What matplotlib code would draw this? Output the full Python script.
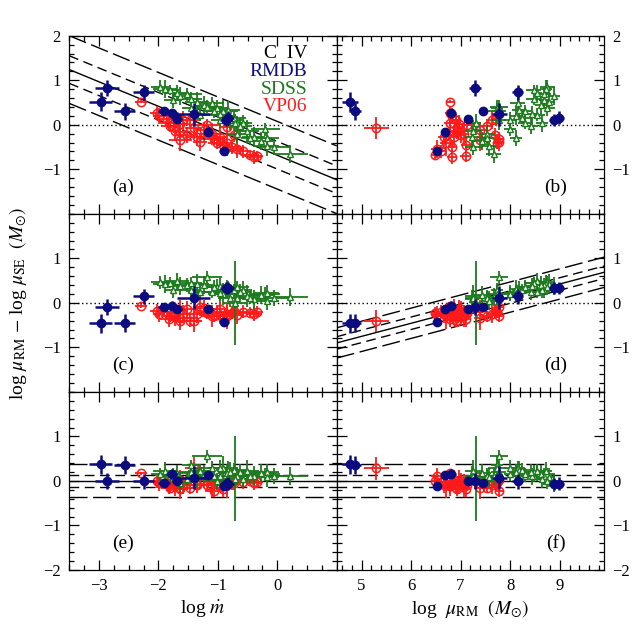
import matplotlib.pyplot as plt
from matplotlib.ticker import MultipleLocator
import numpy as np

plt.rcParams["font.family"] = ["Liberation Serif", "DejaVu Serif"]
plt.rcParams["mathtext.fontset"] = "stix"

# RMDB (reverberation-mapping database)
rmdb_mdot = [-2.97, -2.86, -2.57, -2.25, -1.90, -1.77, -1.69, -1.41, -1.16, -0.90, -0.86, -0.83]
rmdb_mass = [4.76, 7.30, 4.87, 8.15, 7.45, 6.81, 7.16, 7.78, 6.69, 6.53, 8.89, 8.99]
rmdb_d1 = [0.52, 0.83, 0.30, 0.73, 0.31, 0.26, 0.13, 0.24, -0.16, -0.60, 0.11, 0.16]
rmdb_d2 = [-0.46, -0.09, -0.46, 0.15, -0.09, -0.06, -0.14, 0.12, -0.13, -0.43, 0.33, 0.33]
rmdb_d3 = [0.37, 0.00, 0.36, -0.01, -0.04, 0.16, -0.01, 0.07, 0.14, -0.11, -0.07, -0.06]
rmdb_e_mdot = [0.19, 0.20, 0.17, 0.17, 0.10, 0.10, 0.08, 0.28, 0.08, 0.08, 0.10, 0.10]
rmdb_e_mass = [0.16, 0.12, 0.12, 0.12, 0.06, 0.10, 0.06, 0.15, 0.06, 0.06, 0.10, 0.10]
rmdb_e_d = [0.22, 0.18, 0.20, 0.17, 0.08, 0.10, 0.08, 0.26, 0.08, 0.08, 0.14, 0.14]

# VP06
vp06_mdot = [-2.30, -2.02, -1.99, -1.86, -1.58, -1.47, -1.82, -1.63, -1.18, -1.81,
             -1.41, -0.85, -1.24, -1.72, -1.63, -1.10, -1.52, -0.73, -1.35, -0.96,
             -1.07, -1.63, -1.30, -1.02, -0.85, -0.91, -0.76, -0.68, -0.57, -0.46,
             -0.40, -0.34]
vp06_mass = [6.79, 6.78, 6.82, 7.72, 7.63, 6.90, 6.79, 6.96, 7.13, 7.53,
             5.30, 6.95, 7.40, 6.79, 6.93, 7.06, 7.00, 7.70, 6.66, 6.86,
             7.77, 7.40, 7.77, 7.74, 6.70, 7.10, 6.83, 6.52, 6.60, 6.49,
             6.83, 7.10]
vp06_d1 = [0.52, 0.27, 0.19, 0.12, 0.10, 0.10, 0.04, 0.01, -0.01, -0.03,
           -0.07, -0.06, -0.12, -0.14, -0.16, -0.20, -0.22, -0.23, -0.27, -0.28,
           -0.31, -0.34, -0.38, -0.40, -0.42, -0.46, -0.50, -0.55, -0.60, -0.68,
           -0.72, -0.71]
vp06_d2 = [-0.07, -0.18, -0.25, -0.20, -0.25, -0.40, -0.37, -0.15, -0.22, -0.30,
           -0.40, -0.25, -0.12, -0.30, -0.40, -0.30, -0.14, -0.18, -0.25, -0.14,
           -0.29, -0.35, -0.10, -0.20, -0.30, -0.37, -0.22, -0.28, -0.20, -0.22,
           -0.25, -0.20]
vp06_d3 = [0.17, 0.00, -0.05, -0.05, -0.10, -0.15, -0.12, 0.02, -0.08, -0.15,
           0.28, -0.10, 0.03, -0.12, -0.18, -0.10, 0.00, -0.05, -0.08, 0.02,
           -0.22, -0.15, 0.02, -0.05, -0.10, -0.18, -0.05, 0.10, -0.02, 0.00,
           -0.05, -0.03]
vp06_e_mdot = [0.10, 0.12, 0.10, 0.15, 0.12, 0.18, 0.15, 0.12, 0.20, 0.15,
               0.15, 0.12, 0.15, 0.10, 0.12, 0.18, 0.15, 0.12, 0.20, 0.12,
               0.15, 0.20, 0.12, 0.15, 0.10, 0.12, 0.15, 0.12, 0.10, 0.15,
               0.12, 0.10]
vp06_e_mass = [0.08, 0.10, 0.08, 0.10, 0.12, 0.10, 0.12, 0.08, 0.10, 0.12,
               0.25, 0.10, 0.12, 0.08, 0.15, 0.10, 0.12, 0.08, 0.12, 0.10,
               0.08, 0.12, 0.10, 0.08, 0.12, 0.10, 0.08, 0.12, 0.10, 0.08,
               0.10, 0.12]
vp06_e_d = [0.04, 0.15, 0.18, 0.15, 0.20, 0.15, 0.18, 0.22, 0.15, 0.12,
            0.25, 0.20, 0.18, 0.22, 0.15, 0.25, 0.18, 0.15, 0.20, 0.22,
            0.15, 0.25, 0.20, 0.15, 0.28, 0.18, 0.15, 0.20, 0.15, 0.12,
            0.15, 0.12]

# SDSS
sdss_mdot = [-1.97, -1.89, -1.80, -1.69, -1.52, -1.63, -1.46, -1.75, -1.35, -1.10,
             -1.24, -1.18, -1.02, -1.46, -0.83, -1.07, -0.91, -0.96, -1.30, -0.85,
             -0.73, -0.96, -0.79, -0.68, -0.57, -0.62, -0.20, -0.51, -0.68, -0.40,
             -0.17, -0.46, -0.28, -0.17, -0.06, 0.22, -0.72]
sdss_mass = [8.75, 8.72, 8.48, 8.55, 8.68, 8.89, 8.48, 8.68, 8.78, 8.15,
             8.62, 7.77, 8.75, 7.74, 8.18, 8.31, 7.74, 8.45, 8.55, 8.12,
             8.25, 8.00, 7.77, 8.31, 8.65, 8.42, 8.00, 7.26, 7.54, 7.23,
             8.12, 7.53, 7.43, 7.57, 7.26, 7.67, 7.31]
sdss_d1 = [0.85, 0.81, 0.78, 0.72, 0.68, 0.65, 0.59, 0.56, 0.52, 0.48,
           0.44, 0.41, 0.38, 0.38, 0.34, 0.30, 0.30, 0.24, 0.23, 0.20,
           0.16, 0.11, 0.10, 0.05, 0.03, -0.03, -0.10, -0.15, -0.20, -0.28,
           -0.29, -0.30, -0.36, -0.48, -0.51, -0.65, 0.05]
sdss_d2 = [0.46, 0.42, 0.45, 0.48, 0.40, 0.38, 0.44, 0.30, 0.42, 0.25,
           0.40, 0.57, 0.35, 0.28, 0.30, 0.36, 0.20, 0.38, 0.25, 0.32,
           0.28, 0.22, 0.12, 0.35, 0.30, 0.25, 0.20, 0.15, 0.10, 0.08,
           0.22, 0.12, 0.18, 0.05, 0.10, 0.14, 0.00]
sdss_d3 = [0.15, 0.22, 0.10, 0.18, 0.05, -0.05, 0.20, 0.12, 0.08, 0.30,
           0.15, 0.55, 0.00, 0.35, 0.25, 0.12, 0.30, 0.10, 0.22, 0.18,
           0.25, 0.28, 0.20, 0.15, 0.05, 0.20, 0.15, 0.22, 0.10, 0.12,
           0.20, 0.10, 0.18, 0.08, 0.12, 0.11, 0.05]
sdss_e_mdot = [0.15, 0.20, 0.15, 0.20, 0.25, 0.15, 0.20, 0.15, 0.20, 0.20,
               0.15, 0.25, 0.20, 0.15, 0.20, 0.15, 0.25, 0.15, 0.20, 0.15,
               0.20, 0.15, 0.20, 0.20, 0.15, 0.20, 0.25, 0.20, 0.15, 0.20,
               0.20, 0.15, 0.20, 0.20, 0.25, 0.30, 0.20]
sdss_e_mass = [0.15, 0.12, 0.15, 0.10, 0.15, 0.12, 0.15, 0.10, 0.12, 0.15,
               0.12, 0.18, 0.15, 0.12, 0.15, 0.12, 0.18, 0.12, 0.15, 0.12,
               0.15, 0.12, 0.15, 0.15, 0.12, 0.15, 0.12, 0.18, 0.15, 0.15,
               0.12, 0.15, 0.18, 0.15, 0.18, 0.15, 0.10]
sdss_e_d1 = [0.15, 0.20, 0.12, 0.18, 0.15, 0.20, 0.15, 0.18, 0.22, 0.15,
             0.20, 0.15, 0.18, 0.12, 0.20, 0.15, 0.25, 0.18, 0.15, 0.20,
             0.15, 0.18, 0.22, 0.15, 0.20, 0.18, 0.15, 0.25, 0.20, 0.22,
             0.18, 0.15, 0.20, 0.22, 0.18, 0.20, 0.20]
sdss_e_d23 = [0.15, 0.20, 0.12, 0.18, 0.15, 0.20, 0.15, 0.18, 0.22, 0.15,
              0.20, 0.15, 0.18, 0.12, 0.20, 0.15, 0.25, 0.18, 0.15, 0.20,
              0.15, 0.18, 0.22, 0.15, 0.20, 0.18, 0.15, 0.25, 0.20, 0.22,
              0.18, 0.15, 0.20, 0.22, 0.18, 0.20, 0.95]

# best fits: (slope, intercept), half-widths of short/long dashed bands
fit_a = (-0.55, -0.685)
fit_d = (0.294, -2.223)
fit_zero = (0.0, 0.0)
band_a = (0.31, 0.76)
band_d = (0.14, 0.34)
band_ef = (0.14, 0.37)

NAVY = "#0c0c80"
GREEN = "#1b7a1b"
RED = "#ff1a1a"

xlims = [(-3.5, 1.0), (4.5, 9.9)]
xticks = [[-3, -2, -1, 0], [5, 6, 7, 8, 9]]
row_ticks = [[-1, 0, 1, 2], [-1, 0, 1], [-2, -1, 0, 1]]
panel_names = ["(a)", "(b)", "(c)", "(d)", "(e)", "(f)"]

surveys = [
    # x(left), x(right), rows, xerr left, xerr right, yerr per row, style
    (vp06_mdot, vp06_mass, [vp06_d1, vp06_d2, vp06_d3], vp06_e_mdot, vp06_e_mass,
     [vp06_e_d] * 3, dict(fmt="o", color=RED, mfc="none", mec=RED, ms=6, mew=1.1, elinewidth=1.3, zorder=3)),
    (sdss_mdot, sdss_mass, [sdss_d1, sdss_d2, sdss_d3], sdss_e_mdot, sdss_e_mass,
     [sdss_e_d1, sdss_e_d23, sdss_e_d23], dict(fmt="^", color=GREEN, mfc="white", mec=GREEN, ms=4.5, mew=1.0, elinewidth=1.3, zorder=4)),
    (rmdb_mdot, rmdb_mass, [rmdb_d1, rmdb_d2, rmdb_d3], rmdb_e_mdot, rmdb_e_mass,
     [rmdb_e_d] * 3, dict(fmt="o", color=NAVY, mfc=NAVY, mec=NAVY, ms=6, mew=1.0, elinewidth=1.8, zorder=5)),
]


def fit_lines(ax, fit, band, xl):
    xs = np.array(xl)
    y0 = fit[1] + fit[0] * xs
    ax.plot(xs, y0, color="k", lw=1.0, zorder=2)
    for s in (1, -1):
        ax.plot(xs, y0 + s * band[0], color="k", lw=1.0, dashes=(7, 4), zorder=2)
        ax.plot(xs, y0 + s * band[1], color="k", lw=1.0, dashes=(13, 4), zorder=2)


fig, axes = plt.subplots(3, 2, figsize=(6.38, 6.38), dpi=100)
fig.subplots_adjust(left=0.1086, right=0.947, bottom=0.1066, top=0.944, wspace=0, hspace=0)

for r in range(3):
    for c in range(2):
        ax = axes[r][c]
        xl = xlims[c]
        ax.set_xlim(xl)
        ax.set_ylim(-2, 2)

        if r < 2:
            ax.plot(xl, [0, 0], color="k", lw=1.0, ls=(0, (1, 2)), zorder=2)
        if r == 0 and c == 0:
            fit_lines(ax, fit_a, band_a, xl)
        if r == 1 and c == 1:
            fit_lines(ax, fit_d, band_d, xl)
        if r == 2:
            fit_lines(ax, fit_zero, band_ef, xl)

        for xa, xb, rows, exa, exb, eys, st in surveys:
            x = xa if c == 0 else xb
            ex = exa if c == 0 else exb
            ax.errorbar(x, rows[r], xerr=ex, yerr=eys[r], capsize=0, **st)

        ax.set_yticks(row_ticks[r])
        ax.yaxis.set_minor_locator(MultipleLocator(0.2))
        ax.set_xticks(xticks[c])
        ax.xaxis.set_minor_locator(MultipleLocator(0.25 if c == 0 else 0.2))
        ax.tick_params(which="both", direction="in", top=True, right=True,
                       labelsize=12, width=0.9)
        ax.tick_params(which="major", length=7)
        ax.tick_params(which="minor", length=3.5)
        ax.tick_params(labelleft=(c == 0), labelright=(c == 1),
                       labelbottom=(r == 2), pad=6)
        for sp in ax.spines.values():
            sp.set_linewidth(0.9)

        px = -2.6 if c == 0 else 8.92
        ax.text(px, -1.4, panel_names[2 * r + c], fontsize=14, ha="center", va="center")

# labels of samples in panel (a)
ax = axes[0][0]
for ytxt, txt, col in [(1.61, "C  IV", "k"), (1.19, "RMDB", NAVY),
                       (0.80, "SDSS", GREEN), (0.40, "VP06", RED)]:
    ax.text(0.5, ytxt, txt, color=col, fontsize=14, ha="right", va="center")

fig.text(0.3175, 0.045, r"log $\dot{m}$", fontsize=14, ha="center", va="center")
fig.text(0.7375, 0.045, r"log  $\mu_{\rm RM}$  $(M_{\odot})$", fontsize=14, ha="center", va="center")
fig.text(0.028, 0.525, r"log $\mu_{\rm RM}$ $-$ log $\mu_{\rm SE}$  $(M_{\odot})$",
         fontsize=14, rotation=90, ha="center", va="center")

fig.savefig("out.png", dpi=100)
